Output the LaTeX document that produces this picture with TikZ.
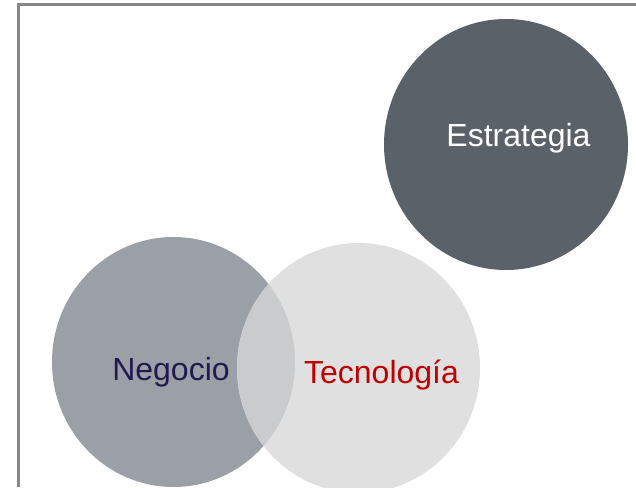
\documentclass[tikz,border=0pt]{standalone}
\usepackage{fontspec}
\setmainfont{Liberation Sans}
\usetikzlibrary{shapes.geometric}
\definecolor{estr}{HTML}{5A6169}
\definecolor{nego}{HTML}{9AA0A6}
\definecolor{tecn}{HTML}{E0E0E0}
\definecolor{inter}{HTML}{C9CBCD}
\definecolor{frame}{HTML}{878787}
\definecolor{navy}{HTML}{201A50}
\definecolor{tred}{HTML}{C00000}
\tikzset{
  blob/.style={ellipse, inner sep=0pt, minimum width=243pt, minimum height=250pt, draw=none},
  lbl/.style={anchor=base, inner sep=0pt, font=\fontsize{32}{38}\selectfont}
}
\begin{document}
\begin{tikzpicture}[x=1pt,y=1pt]
\useasboundingbox (0,0) rectangle (636,487);
\draw[frame, line width=3pt] (18,0) -- (18,482) -- (636,482);
\node[blob, fill=estr, minimum width=244pt, minimum height=251pt] (estrategia) at (506,342.5) {};
\node[blob, fill=nego] (negocio) at (173.5,125) {};
\node[blob, fill=tecn] (tecnologia) at (358.5,119) {};
\begin{scope}
  \clip (173.5,125) ellipse [x radius=121.5, y radius=125];
  \fill[inter] (358.5,119) ellipse [x radius=121.5, y radius=125];
\end{scope}
\node[lbl, text=white] (testr) at (518.5,340) {Estrategia};
\node[lbl, text=navy] (tnego) at (171,107) {Negocio};
\node[lbl, text=tred] (ttecn) at (381.5,103) {Tecnología};
\end{tikzpicture}
\end{document}
